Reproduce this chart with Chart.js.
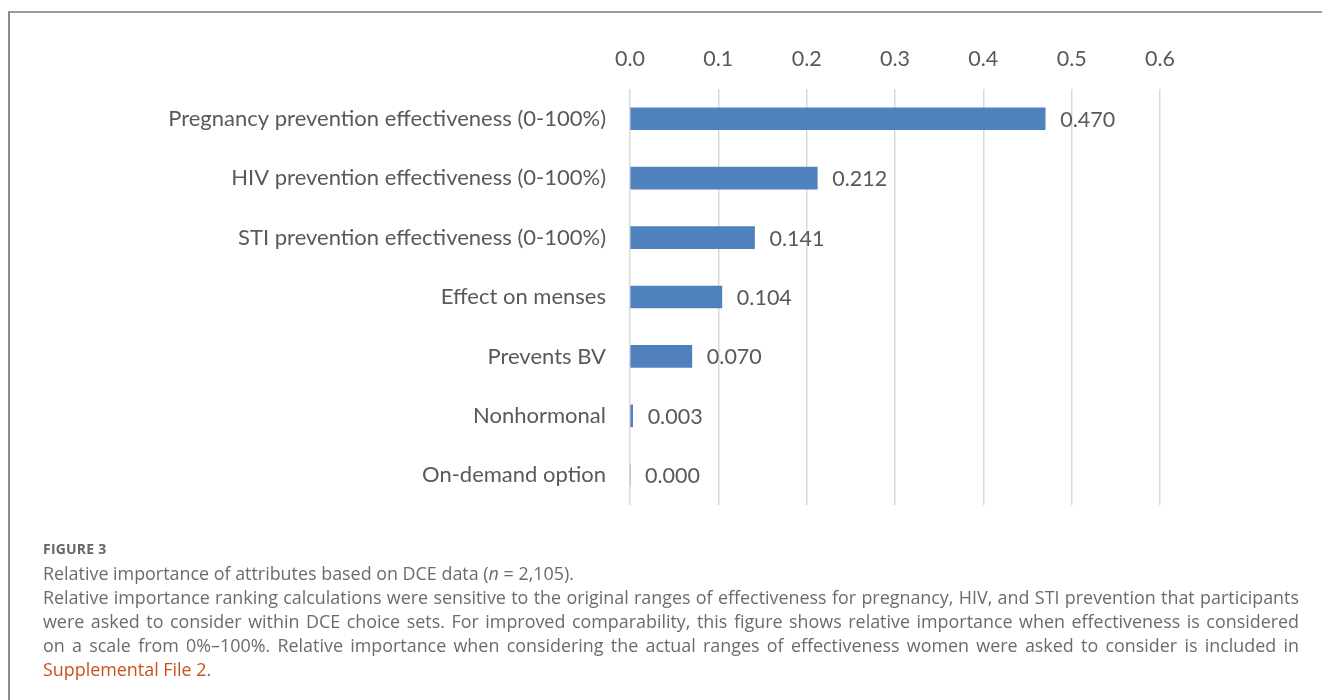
<!DOCTYPE html>
<html>
<head>
<meta charset="utf-8">
<script src="https://cdn.jsdelivr.net/npm/chart.js@4/dist/chart.umd.min.js"></script>
<style>
    body { margin: 0; background: #fff; width: 1322px; height: 700px; overflow: hidden; position: relative; }
    #frame { position: absolute; left: 8px; top: 11px; width: 1400px; height: 800px; border-left: 2px solid #8c8c8c; border-top: 2px solid #9a9a9a; }
    #chartBox { position: absolute; left: 0; top: 0; width: 1322px; height: 540px; }
    #caption { position: absolute; left: 43px; top: 539px; width: 1256px; font-family: "Open Sans", sans-serif; color: #6b6b6b; font-size: 17.9px; line-height: 24px; }
    #caption .fig { font-weight: bold; font-size: 14px; line-height: 20px; margin-bottom: 2px; color: #666; letter-spacing: 0.2px; }
    #caption .j { text-align: justify; text-align-last: justify; white-space: nowrap; }
    #caption a { color: #c9511f; text-decoration: none; }
</style>
</head>
<body>
<div id="frame"></div>
<div id="chartBox"><canvas id="importanceChart"></canvas></div>
<div id="caption">
    <div class="fig">FIGURE 3</div>
    <div>Relative importance of attributes based on DCE data (<i>n</i> = 2,105).</div>
    <div class="j">Relative importance ranking calculations were sensitive to the original ranges of effectiveness for pregnancy, HIV, and STI prevention that participants</div>
    <div class="j">were asked to consider within DCE choice sets. For improved comparability, this figure shows relative importance when effectiveness is considered</div>
    <div class="j">on a scale from 0%–100%. Relative importance when considering the actual ranges of effectiveness women were asked to consider is included in</div>
    <div><a>Supplemental File 2</a>.</div>
</div>
<script>
// Chart data
const attributes = [
    'Pregnancy prevention effectiveness (0-100%)',
    'HIV prevention effectiveness (0-100%)',
    'STI prevention effectiveness (0-100%)',
    'Effect on menses',
    'Prevents BV',
    'Nonhormonal',
    'On-demand option'
];
const importance = [0.470, 0.212, 0.141, 0.104, 0.070, 0.003, 0.000];
const axisMin = 0;
const axisMax = 0.6;
const axisStep = 0.1;

const categoryFont = { family: 'Lato, sans-serif', size: 22 };
const numberFont = { family: 'Lato, sans-serif', size: 21.5 };
const textColor = '#595959';

// Draw the value next to each bar end
const valueLabels = {
    id: 'valueLabels',
    afterDatasetsDraw(chart) {
        const ctx = chart.ctx;
        const meta = chart.getDatasetMeta(0);
        ctx.save();
        ctx.font = numberFont.size + 'px ' + numberFont.family;
        ctx.fillStyle = textColor;
        ctx.textAlign = 'left';
        ctx.textBaseline = 'middle';
        meta.data.forEach((bar, i) => {
            ctx.fillText(importance[i].toFixed(3), bar.x + 15, bar.y + 1);
        });
        ctx.restore();
    }
};

new Chart(document.getElementById('importanceChart'), {
    type: 'bar',
    data: {
        labels: attributes,
        datasets: [{
            data: importance,
            backgroundColor: '#4f81bd',
            borderWidth: 0,
            barThickness: 22
        }]
    },
    options: {
        indexAxis: 'y',
        responsive: true,
        maintainAspectRatio: false,
        animation: false,
        layout: { padding: { left: 0, right: 162, top: 0, bottom: 35 } },
        plugins: {
            legend: { display: false },
            tooltip: { enabled: false }
        },
        scales: {
            x: {
                position: 'top',
                min: axisMin,
                max: axisMax,
                afterFit(scale) { scale.height = 89; },
                ticks: {
                    stepSize: axisStep,
                    padding: 17,
                    color: textColor,
                    font: numberFont,
                    callback: v => v.toFixed(1)
                },
                grid: { color: '#d9d9d9', lineWidth: 1.5, drawTicks: false },
                border: { display: false }
            },
            y: {
                afterFit(scale) { scale.width = 630; },
                ticks: { padding: 16, color: textColor, font: categoryFont },
                grid: { display: false },
                border: { display: false }
            }
        }
    },
    plugins: [valueLabels]
});
</script>
</body>
</html>
